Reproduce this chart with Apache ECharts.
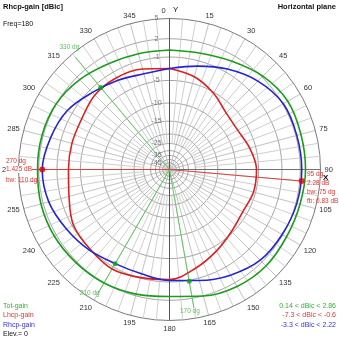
<!DOCTYPE html>
<html><head><meta charset="utf-8">
<script src="https://cdn.jsdelivr.net/npm/echarts@6/dist/echarts.min.js"></script>
<style>html,body{margin:0;padding:0;background:#fff}#c{width:339px;height:339px}</style>
</head><body><div id="c"></div>
<script>
// ---- data (dBic), azimuth angles in degrees (0 = Y axis, clockwise) ----
const angles   = [0,15,30,45,60,75,90,105,120,135,150,165,180,195,210,225,240,255,270,285,300,315,330,345];
const totGain  = [0.14,0.30,1.05,2.18,2.86,2.78,2.78,2.63,2.63,2.84,2.63,2.03,1.38,1.71,2.03,2.18,2.34,2.34,2.18,2.18,2.03,1.38,0.56,0.20];
const lhcpGain = [-2.96,-3.82,-5.24,-7.0,-7.3,-6.35,-5.46,-5.46,-6.0,-5.3,-4.16,-2.79,-1.43,-1.09,-0.6,-1.0,-1.26,-2.45,-2.96,-2.96,-2.9,-2.2,-2.11,-2.45];
const rhcpGain = [-2.96,-1.94,-0.43,1.05,2.1,2.15,2.22,2.15,1.88,1.6,0.56,-0.59,-1.26,-1.77,-1.65,-0.8,0.07,1.05,1.425,0.73,-0.1,-1.6,-2.62,-3.3];

// radial grid rings (dBic) and their labels
const ringDb     = [5,2,-1,-5,-10,-15,-20,-25,-30,-35,-40,-45];
const ringLabels = ['5','2','-1','-5','-10','-15','','-25','','-35','','-45'];
// fraction of full radius of each ring (log-like scale)
const ringFrac   = [1,0.866,0.745,0.59,0.44,0.32,0.235,0.172,0.125,0.093,0.066,0.045];

// markers
const markAngles = [270,95];
const markGain   = [1.425,2.28];
const markBw     = [110,75];
const markFb     = [null,0.83];
const beamAngles = [320,210,170];
const beamLabels = ['330 dg','210 dg','170 dg'];
const beamDotDb  = [-1.94,-1.65,-0.83];

const FONT = '"Liberation Sans", Arial, Helvetica, sans-serif';
const C_GREEN = '#1c9c1c', C_RED = '#dc2020', C_BLUE = '#2424d0';
const T_GREEN = '#34b034', T_RED = '#e03434', T_BLUE = '#3434e0';

function toR(db){
  if (db >= ringDb[0]) return 1;
  for (let i=1;i<ringDb.length;i++){
    if (db >= ringDb[i]){
      const t = (ringDb[i-1]-db)/(ringDb[i-1]-ringDb[i]);
      return ringFrac[i-1] + t*(ringFrac[i]-ringFrac[i-1]);
    }
  }
  return ringFrac[ringFrac.length-1];
}
function curve(vals){
  const d = angles.map((a,i)=>[toR(vals[i]), a]);
  d.push([toR(vals[0]), 360]);
  return d;
}
function lineS(data, color, width, z, extra){
  return Object.assign({type:'line', coordinateSystem:'polar', data, symbol:'none', silent:true,
    animation:false, lineStyle:{color, width}, z}, extra||{});
}

const series = [];
// rings
ringFrac.forEach((f,i)=>{
  if (i===0) return;
  const d=[]; for(let a=0;a<=360;a+=3) d.push([f,a]);
  series.push(lineS(d, '#a4a4a4', 1, 1));
});
// minor spokes every 5 deg from inner ring outward
for (let a=0;a<360;a+=5){
  if (a%15===0) continue;
  series.push(lineS([[ringFrac[7],a],[1,a]], '#cfcfcf', 1, 1));
}
// main axes
series.push(lineS([[1,0],[0,0],[1,180]], '#555', 1, 2));
series.push(lineS([[1,90],[0,90],[1,270]], '#707070', 1, 2));
// ring labels
series.push({type:'scatter', coordinateSystem:'polar', silent:true, animation:false, clip:false, symbolSize:0, z:5,
  data: ringFrac.map((f,i)=>({value:[f,0], label:{formatter: ringLabels[i]}})),
  label:{show:true, position:'inside', offset:[-13,0], align:'center', verticalAlign:'middle',
    fontSize:7, color:'#555', fontFamily:FONT}});
// green beam lines
const beamEnd = [0.97,0.95,0.93];
const beamOff = [[-6,-10],[-8,-1],[-4,3]];
beamAngles.forEach((a,i)=>{
  series.push(lineS([[0,a],[beamEnd[i],a]], '#62c862', 1, 3));
});
series.push({type:'scatter', coordinateSystem:'polar', silent:true, animation:false, clip:false, symbolSize:0, z:6,
  data: beamAngles.map((a,i)=>({value:[beamEnd[i],a], label:{formatter:beamLabels[i], offset:beamOff[i]}})),
  label:{show:true, position:'inside', align:'center', verticalAlign:'middle', fontSize:6.5, color:T_GREEN, fontFamily:FONT}});
// red marker lines
series.push(lineS([[0,markAngles[0]],[1,markAngles[0]]], '#e04040', 1, 3));
series.push(lineS([[0,markAngles[1]],[toR(markGain[1]),markAngles[1]]], '#e04040', 1, 3));
// curves
series.push(lineS(curve(totGain), C_GREEN, 1.6, 10, {smooth:0.35}));
series.push(lineS(curve(lhcpGain), C_RED, 1.6, 11, {smooth:0.35}));
series.push(lineS(curve(rhcpGain), C_BLUE, 1.6, 12, {smooth:0.35}));
// dots
series.push({type:'scatter', coordinateSystem:'polar', silent:true, animation:false, symbolSize:5, z:20,
  itemStyle:{color:'#14a014'}, data: beamAngles.map((a,i)=>[toR(beamDotDb[i]),a])});
series.push({type:'scatter', coordinateSystem:'polar', silent:true, animation:false, symbolSize:6, z:21,
  itemStyle:{color:'#e00000'}, data: markAngles.map((a,i)=>[toR(markGain[i]),a])});

function txt(x,y,text,color,o){
  o=o||{};
  const st = {text, fill:color, font:(o.bold?'bold ':'')+(o.size||7)+'px '+FONT,
    textAlign:o.align||'left', align:o.align||'left', textVerticalAlign:'middle', verticalAlign:'middle'};
  if (o.bg){ st.backgroundColor=o.bg; }
  return {type:'text', x, y, z:100, silent:true, style:st};
}
const rng = a => Math.min(...a)+' < dBic < '+Math.max(...a);
const graphic = [
  txt(3,7,'Rhcp-gain [dBic]','#111',{bold:true,size:7.5}),
  txt(3,24,'Freq=180','#111',{size:7}),
  txt(336,7,'Horizontal plane','#111',{bold:true,size:7.5,align:'right'}),
  txt(173,10,'Y','#111',{size:8}),
  txt(323,178,'X','#111',{size:8,bold:true}),
  txt(6,161.5,markAngles[0]+' dg',T_RED,{size:6.5}),
  txt(6,169.5,markGain[0]+' dB',T_RED,{size:6.5,bg:'#fff'}),
  txt(6,180.5,'bw: '+markBw[0]+' dg',T_RED,{size:6.5}),
  txt(307,174.5,markAngles[1]+' dg',T_RED,{size:6.5}),
  txt(307,183.5,markGain[1]+' dB',T_RED,{size:6.5}),
  txt(307,192.5,'bw: '+markBw[1]+' dg',T_RED,{size:6.5}),
  txt(307,201,'fb: '+markFb[1]+' dB',T_RED,{size:6.5}),
  txt(3,306,'Tot-gain',T_GREEN,{size:7}),
  txt(3,315.5,'Lhcp-gain',T_RED,{size:7}),
  txt(3,325,'Rhcp-gain',T_BLUE,{size:7}),
  txt(3,334,'Elev.= 0','#111',{size:7}),
  txt(336,306,rng(totGain),T_GREEN,{size:7,align:'right'}),
  txt(336,315.5,rng(lhcpGain),T_RED,{size:7,align:'right'}),
  txt(336,325,rng(rhcpGain),T_BLUE,{size:7,align:'right'})
];

const chart = echarts.init(document.getElementById('c'));
chart.setOption({
  animation:false,
  backgroundColor:'#fff',
  polar:{center:['50%','50%'], radius:151},
  angleAxis:{type:'value', min:0, max:360, interval:15, startAngle:90, clockwise:true,
    axisLine:{show:true, lineStyle:{color:'#7a7a7a', width:1}},
    axisTick:{show:false},
    axisLabel:{show:true, margin:4, fontSize:7.5, color:'#333', fontFamily:FONT,
      formatter: v => v===360 ? '' : (v===0 ? '{z|0}' : String(v)),
      rich:{z:{fontSize:7.5, color:'#333', fontFamily:FONT, padding:[0,12,0,0]}}},
    splitLine:{show:true, lineStyle:{color:'#c2c2c2', width:1}}},
  radiusAxis:{type:'value', min:0, max:1, axisLine:{show:false}, axisTick:{show:false},
    axisLabel:{show:false}, splitLine:{show:false}},
  series,
  graphic
});
</script></body></html>
